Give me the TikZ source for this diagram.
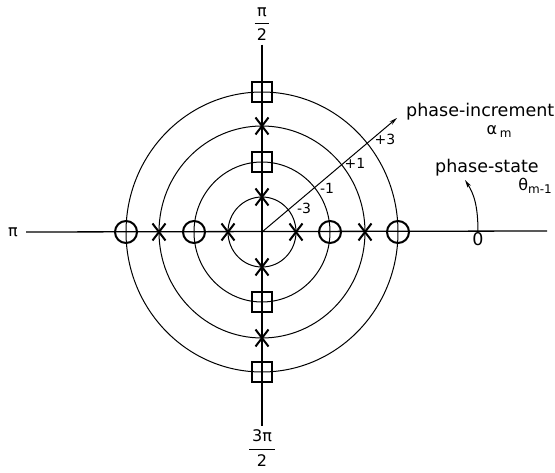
\documentclass[tikz,border=0pt]{standalone}
\usepackage{amsmath}
\usepackage{fontspec}
\setmainfont{DejaVu Sans}
\usetikzlibrary{arrows.meta,positioning,shapes.misc}

\newcommand{\lowidx}[1]{\raisebox{-3pt}{\fontsize{12}{12}\selectfont#1}}

\tikzset{
  ring/.style={line width=1pt},
  axis/.style={line width=1.3pt},
  omark/.style={circle,draw,line width=2pt,minimum size=22pt,inner sep=0pt},
  smark/.style={rectangle,draw,line width=2pt,minimum size=20pt,inner sep=0pt},
  xmark/.style={cross out,draw,line width=2pt,minimum width=11pt,minimum height=15pt,inner sep=0pt},
  lbl/.style={font=\fontsize{17.5}{18}\selectfont,inner sep=0pt},
  num/.style={font=\fontsize{14}{15}\selectfont,inner sep=0pt},
  frc/.style={font=\fontsize{16}{18}\selectfont,inner sep=0pt},
}

\begin{document}
\begin{tikzpicture}[x=1pt,y=-1pt]
  \useasboundingbox (0,0) rectangle (555,473);
  \coordinate (O) at (262,232);

  % axis labels
  \node[frc] (pi) at (13,232) {π};
  \node[frc] (top) at (262,24) {$\genfrac{}{}{1.4pt}{0}{\mbox{\,π\,}}{\mbox{2}}$};
  \node[frc] (bot) at (262,448) {$\genfrac{}{}{1.4pt}{0}{\mbox{\,3π\,}}{\mbox{2}}$};
  \node[lbl] (zero) at (478,239) {0};
  \coordinate (east) at (547,231);

  % rings
  \foreach \rx/\ry in {34/35,68/70,103/106,136/140}
    \draw[ring] (O) ellipse [x radius=\rx pt, y radius=\ry pt];

  % axes
  \draw[axis] ([yshift=0pt,xshift=8pt]pi.east) -- (east);
  \draw[axis] ([yshift=-4pt]top.south) -- ([yshift=4pt]bot.north);

  % markers on the real axis
  \foreach \r in {34,103} {
    \node[xmark] (xe\r) at (262+\r,232) {};
    \node[xmark] (xw\r) at (262-\r,232) {};
  }
  \foreach \r in {68,136} {
    \node[omark] (oe\r) at (262+\r,232) {};
    \node[omark] (ow\r) at (262-\r,232) {};
  }
  % markers on the imaginary axis
  \foreach \r in {35,106} {
    \node[xmark] (xn\r) at (262,232-\r) {};
    \node[xmark] (xs\r) at (262,232+\r) {};
  }
  \foreach \r in {70,140} {
    \node[smark] (sn\r) at (262,232-\r) {};
    \node[smark] (ss\r) at (262,232+\r) {};
  }

  % phase increment
  \coordinate (inc) at (397,118);
  \draw[ring,-{Stealth[length=8pt,width=4pt]}] (O) -- (inc);
  \node[num] (m3) at (304,208) {-3};
  \node[num] (m1) at (327,188) {-1};
  \node[num] (p1) at (355,163) {+1};
  \node[num] (p3) at (385,139) {+3};
  \node[lbl,anchor=west] (inctxt) at (406,112) {phase-increment};
  \node[frc] (alpha) at (499,132) {α\,\lowidx{m}};

  % phase state
  \node[lbl,anchor=west] (sttxt) at (435,168) {phase-state};
  \node[frc] (theta) at (535,186) {θ\lowidx{m-1}};
  \coordinate (st) at (465,180);
  \draw[ring,-{Stealth[length=8pt,width=4pt]}] (zero.north) .. controls (478,206) and (474,194) .. (st);
\end{tikzpicture}
\end{document}
